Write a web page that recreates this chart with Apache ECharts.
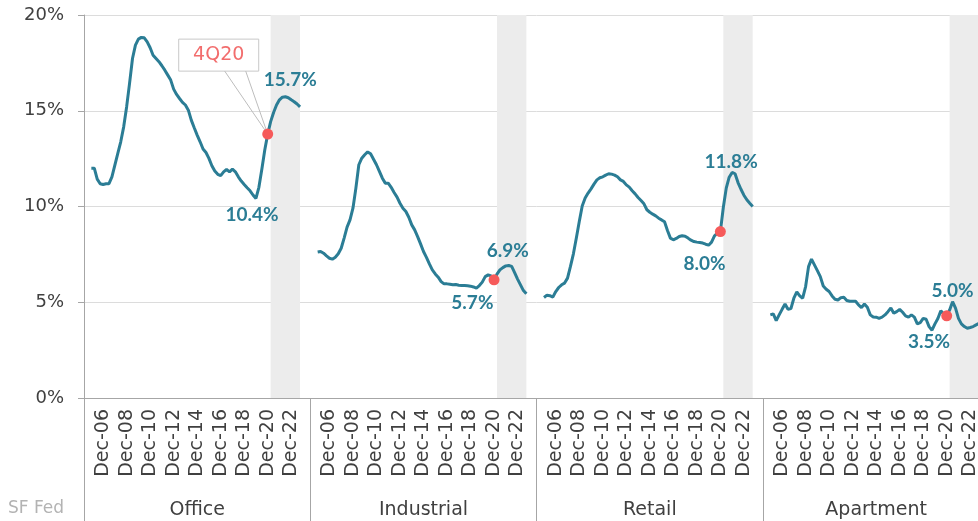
<!DOCTYPE html>
<html>
<head>
<meta charset="UTF-8">
<title>Vacancy rates by property type</title>
<script src="https://cdn.jsdelivr.net/npm/echarts@6/dist/echarts.min.js" type="text/javascript"></script>
<style>html,body{margin:0;padding:0;background:#fff;overflow:hidden;}</style>
</head>
<body>
<!-- wider than the window: the last panel runs off the right edge like the original -->
<div id="container" style="width:995px;height:521px;"></div>
<script>

// panels and quarterly categories (Dec-05 .. Sep-23)
var panels = ['Office', 'Industrial', 'Retail', 'Apartment'];
var months = ['Mar', 'Jun', 'Sep', 'Dec'];
var quarters = [];
for (var y = 2005; y <= 2023; y++) {
    for (var q = 0; q < 4; q++) {
        if (y == 2005 && q < 3) continue;
        if (y == 2023 && q > 2) continue;
        quarters.push(months[q] + '-' + String(y).slice(2));
    }
}
var tickLabels = ['Dec-06', 'Dec-08', 'Dec-10', 'Dec-12', 'Dec-14', 'Dec-16', 'Dec-18', 'Dec-20', 'Dec-22'];

// vacancy rate, %
var office = [12.0, 12.0, 11.43, 11.19, 11.15, 11.19, 11.19, 11.55, 12.16, 12.77,
    13.38, 14.16, 15.2, 16.43, 17.73, 18.43, 18.74, 18.83, 18.81, 18.6,
    18.29, 17.9, 17.73, 17.56, 17.35, 17.12, 16.86, 16.6, 16.13, 15.85,
    15.64, 15.44, 15.3, 15.03, 14.51, 14.11, 13.73, 13.38, 13.0, 12.82,
    12.51, 12.13, 11.85, 11.68, 11.61, 11.81, 11.94, 11.81, 11.95, 11.81,
    11.55, 11.33, 11.15, 10.98, 10.82, 10.6, 10.42, 11.0, 11.95, 12.95,
    13.78, 14.43, 14.91, 15.3, 15.57, 15.71, 15.73, 15.68, 15.57, 15.47,
    15.35, 15.2];
var industrial = [7.62, 7.65, 7.56, 7.42, 7.3, 7.25, 7.35, 7.53, 7.82, 8.35,
    8.92, 9.3, 9.91, 10.96, 12.18, 12.52, 12.7, 12.85, 12.75, 12.47,
    12.18, 11.83, 11.48, 11.22, 11.22, 11.0, 10.73, 10.49, 10.17, 9.91,
    9.74, 9.44, 9.04, 8.78, 8.43, 8.05, 7.65, 7.34, 7.0, 6.69,
    6.48, 6.31, 6.08, 5.96, 5.96, 5.94, 5.91, 5.93, 5.89, 5.87,
    5.87, 5.86, 5.84, 5.8, 5.74, 5.87, 6.05, 6.34, 6.43, 6.38,
    6.17, 6.47, 6.69, 6.81, 6.9, 6.92, 6.87, 6.55, 6.21, 5.91,
    5.61, 5.44];
var retail = [5.25, 5.37, 5.34, 5.27, 5.56, 5.77, 5.91, 6.0, 6.26, 6.87,
    7.53, 8.35, 9.22, 10.03, 10.44, 10.7, 10.92, 11.17, 11.39, 11.5,
    11.55, 11.64, 11.71, 11.69, 11.64, 11.55, 11.39, 11.31, 11.13, 11.01,
    10.82, 10.66, 10.47, 10.31, 10.14, 9.83, 9.7, 9.6, 9.51, 9.39,
    9.3, 9.2, 8.75, 8.35, 8.26, 8.33, 8.43, 8.47, 8.45, 8.35,
    8.24, 8.17, 8.14, 8.12, 8.09, 8.03, 7.98, 8.14, 8.47, 8.61,
    8.69, 9.95, 10.96, 11.53, 11.78, 11.71, 11.25, 10.9, 10.59, 10.35,
    10.17, 10.0];
var apartment = [4.34, 4.39, 4.04, 4.34, 4.63, 4.91, 4.63, 4.67, 5.21, 5.54,
    5.33, 5.21, 5.82, 6.86, 7.25, 6.95, 6.65, 6.34, 5.85, 5.68,
    5.56, 5.33, 5.16, 5.12, 5.24, 5.26, 5.09, 5.05, 5.05, 5.05,
    4.86, 4.72, 4.91, 4.74, 4.34, 4.23, 4.22, 4.16, 4.22, 4.34,
    4.51, 4.7, 4.43, 4.51, 4.63, 4.48, 4.29, 4.22, 4.34, 4.22,
    3.87, 3.94, 4.16, 4.11, 3.73, 3.54, 3.87, 4.15, 4.56, 4.39,
    4.29, 4.6, 5.03, 4.69, 4.16, 3.87, 3.73, 3.64, 3.68, 3.73,
    3.82, 3.9];

var values = [office, industrial, retail, apartment];
var markedQuarter = 'Dec-20';     // 4Q20 dot
var forecastFrom = 'Mar-21';      // shaded part
// value labels (peaks / troughs) and where their text sits
var notes = [
    {panel: 0, quarter: 'Jun-22', dx: 5, dy: -17},
    {panel: 0, quarter: 'Dec-19', dx: -4, dy: 16},
    {panel: 1, quarter: 'Mar-22', dx: -1, dy: -15},
    {panel: 1, quarter: 'Jun-19', dx: -4, dy: 15},
    {panel: 2, quarter: 'Dec-21', dx: -1, dy: -11},
    {panel: 2, quarter: 'Dec-19', dx: -4, dy: 19},
    {panel: 3, quarter: 'Jun-21', dx: 0, dy: -11},
    {panel: 3, quarter: 'Sep-19', dx: -3, dy: 12}
];

var padBefore = 2, padAfter = 3;
var slot = padBefore + quarters.length + padAfter;
var catWidth = 226.33 / slot;

var xData = [];
panels.forEach(function () {
    for (var i = 0; i < padBefore; i++) xData.push('');
    quarters.forEach(function (q) { xData.push(q); });
    for (var j = 0; j < padAfter; j++) xData.push('');
});
function pos(p, quarter) { return p * slot + padBefore + quarters.indexOf(quarter); }

var teal = '#2b7d95';
var series = panels.map(function (name, p) {
    var data = values[p].map(function (v, i) { return [p * slot + padBefore + i, v]; });
    var mp = notes.filter(function (n) { return n.panel == p; }).map(function (n) {
        var v = values[p][quarters.indexOf(n.quarter)];
        return {coord: [pos(p, n.quarter), v], value: v, label: {offset: [n.dx, n.dy]}};
    });
    return {
        name: name, type: 'line', data: data, showSymbol: false, z: 3,
        lineStyle: {color: teal, width: 3}, itemStyle: {color: teal},
        markArea: {
            silent: true, itemStyle: {color: '#ececec'},
            data: [[{xAxis: pos(p, forecastFrom)}, {xAxis: pos(p, quarters[quarters.length - 1])}]]
        },
        markPoint: {
            symbol: 'circle', symbolSize: 1, itemStyle: {color: 'rgba(0,0,0,0)'},
            label: {
                show: true, position: 'inside', color: teal, fontFamily: 'Lato', fontWeight: 'bold', fontSize: 19,
                formatter: function (d) { return d.value.toFixed(1) + '%'; }
            },
            data: mp
        }
    };
});

var dots = panels.map(function (name, p) {
    return [pos(p, markedQuarter), values[p][quarters.indexOf(markedQuarter)]];
});
series.push({type: 'scatter', data: dots, symbolSize: 11, itemStyle: {color: '#f65a5a', opacity: 1}, z: 5, silent: true});

var mychart = echarts.init(document.getElementById('container'));
var option = {
    animation: false,
    textStyle: {fontFamily: 'DejaVu Sans'},
    grid: {left: 84, top: 15, width: catWidth * xData.length, height: 383},
    xAxis: [{
        type: 'category', data: xData, boundaryGap: true,
        axisLine: {lineStyle: {color: '#a6a6a6'}},
        axisTick: {show: false},
        axisLabel: {
            rotate: 90, fontSize: 19, color: '#404040', margin: 11,
            interval: function (i, v) { return tickLabels.indexOf(v) >= 0; }
        },
        splitLine: {show: false}
    }, {
        type: 'category', data: panels, position: 'bottom', boundaryGap: true,
        axisLine: {show: false},
        axisTick: {show: true, interval: 0, length: 123, lineStyle: {color: '#a6a6a6'}},
        axisLabel: {interval: 0, margin: 103, fontSize: 19, color: '#404040'}
    }],
    yAxis: {
        type: 'value', min: 0, max: 20, interval: 5,
        axisLine: {show: true, lineStyle: {color: '#a6a6a6'}},
        axisTick: {show: true, length: 6, lineStyle: {color: '#a6a6a6'}},
        axisLabel: {formatter: '{value}%', fontSize: 18, color: '#404040', margin: 20},
        splitLine: {lineStyle: {color: '#dcdcdc'}}
    },
    series: series
};
mychart.setOption(option);

// 4Q20 callout, placed from the office dot
var d = mychart.convertToPixel({xAxisIndex: 0, yAxisIndex: 0}, dots[0]);
mychart.setOption({
    graphic: [
        {type: 'line', z: 1, shape: {x1: d[0] - 43, y1: d[1] - 63, x2: d[0], y2: d[1]}, style: {stroke: '#bdbdbd', lineWidth: 1}},
        {type: 'line', z: 1, shape: {x1: d[0] - 22, y1: d[1] - 63, x2: d[0], y2: d[1]}, style: {stroke: '#bdbdbd', lineWidth: 1}},
        {type: 'rect', shape: {x: d[0] - 89, y: d[1] - 95, width: 80, height: 32}, style: {fill: '#fff', stroke: '#c8c8c8', lineWidth: 1}},
        {type: 'text', x: d[0] - 49, y: d[1] - 79, style: {text: '4Q20', fill: '#f26d6d', font: '19px "DejaVu Sans"', align: 'center', verticalAlign: 'middle'}},
        {type: 'text', left: 8, top: 500, style: {text: 'SF Fed', fill: '#b3b3b3', font: '17px "DejaVu Sans"'}}
    ]
});

</script>
</body>
</html>
